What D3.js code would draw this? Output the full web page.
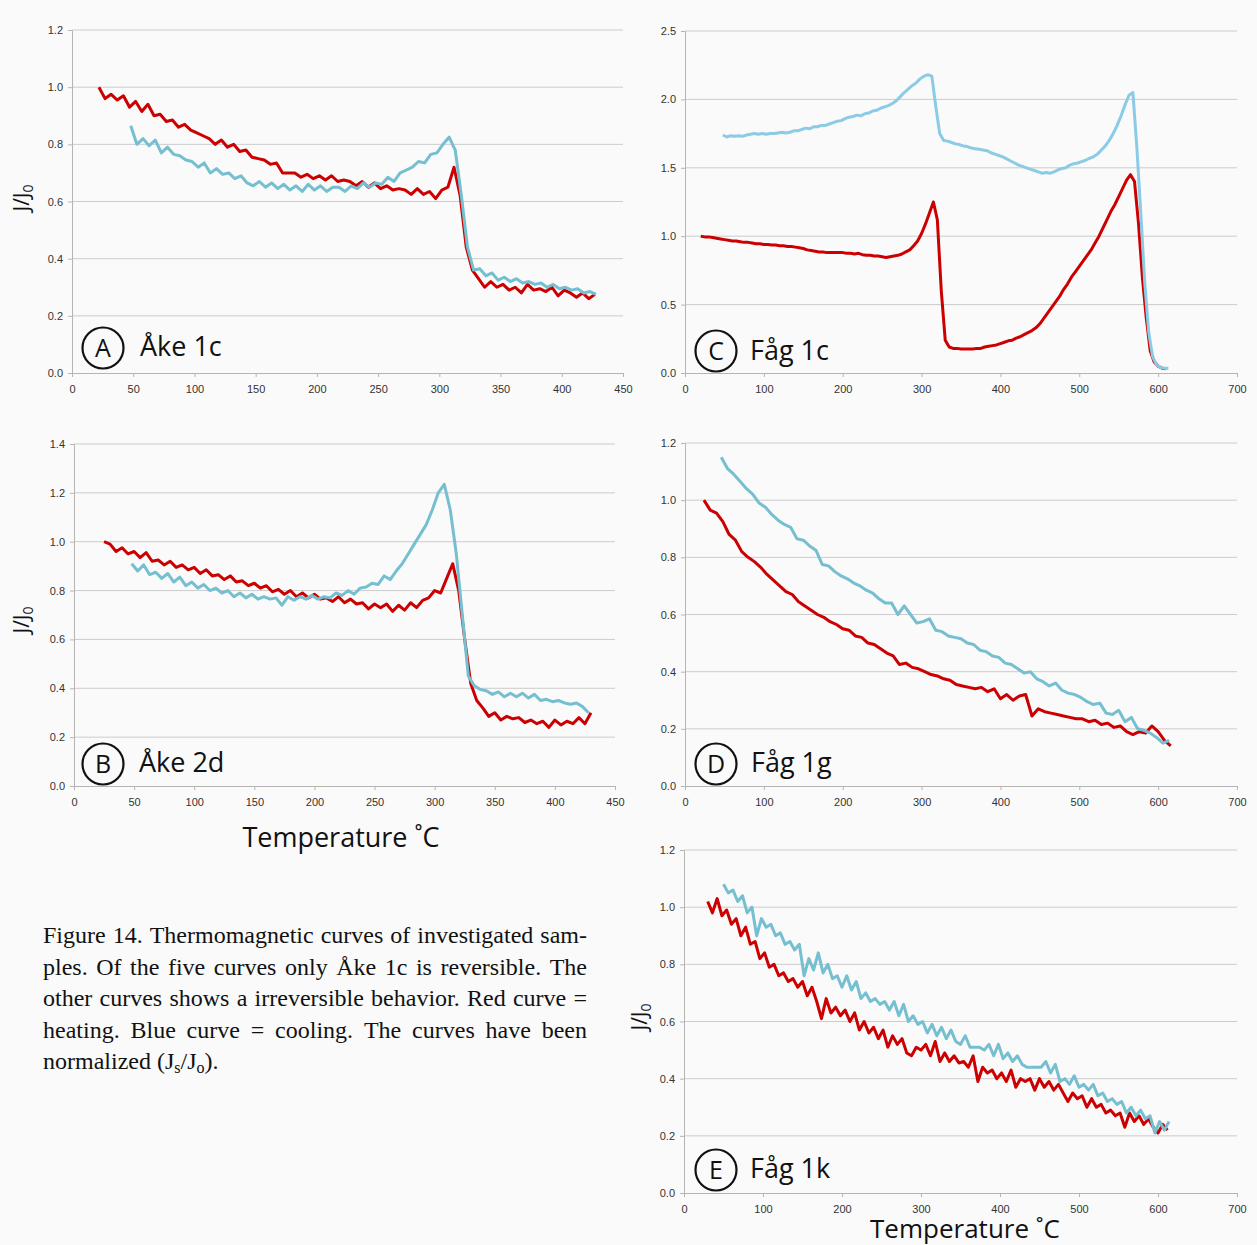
<!DOCTYPE html>
<html><head><meta charset="utf-8">
<script src="https://cdn.jsdelivr.net/npm/d3@7"></script>
<style>body{margin:0;background:#fafafa}</style>
</head><body><svg id="c" width="1257" height="1245"></svg>
<script>
// ---------------- DATA ----------------
// Temperatures: series start (°C) and sampling step (°C); values are J/J0
const aHeatStart = 22, aHeatStep = 5;
const aHeat = [1.00,0.96,0.975,0.955,0.97,0.93,0.95,0.915,0.94,0.90,
0.905,0.88,0.885,0.86,0.87,0.85,0.84,0.83,0.82,0.80,
0.815,0.79,0.80,0.775,0.78,0.755,0.75,0.745,0.73,0.735,
0.70,0.70,0.70,0.685,0.695,0.68,0.69,0.675,0.69,0.67,
0.675,0.67,0.655,0.67,0.65,0.665,0.645,0.655,0.64,0.645,
0.64,0.625,0.645,0.625,0.635,0.61,0.64,0.65,0.72,0.62,
0.44,0.36,0.33,0.30,0.32,0.30,0.31,0.29,0.30,0.28,
0.31,0.29,0.295,0.285,0.30,0.27,0.29,0.28,0.265,0.28,0.26,0.275];
const aCoolStart = 48, aCoolStep = 5;
const aCool = [0.865,0.80,0.82,0.795,0.815,0.77,0.79,0.765,0.76,0.745,
0.74,0.72,0.735,0.70,0.715,0.695,0.70,0.68,0.69,0.665,
0.655,0.67,0.65,0.665,0.645,0.66,0.64,0.655,0.635,0.66,
0.64,0.655,0.635,0.65,0.65,0.635,0.655,0.645,0.665,0.65,
0.665,0.66,0.685,0.67,0.70,0.71,0.72,0.74,0.735,0.765,
0.77,0.80,0.825,0.78,0.62,0.44,0.36,0.365,0.34,0.35,
0.325,0.335,0.32,0.33,0.315,0.32,0.31,0.315,0.30,0.31,0.295,0.30,0.29,0.295,0.28,0.285,0.275];

const bHeatStart = 25, bHeatStep = 5;
const bHeat = [1.00,0.99,0.96,0.975,0.95,0.96,0.935,0.955,0.92,0.925,
0.905,0.92,0.895,0.905,0.885,0.895,0.87,0.885,0.86,0.865,
0.845,0.86,0.835,0.84,0.82,0.83,0.81,0.82,0.795,0.805,
0.785,0.80,0.775,0.79,0.77,0.785,0.765,0.77,0.755,0.775,
0.75,0.765,0.745,0.75,0.725,0.745,0.73,0.745,0.715,0.74,
0.72,0.75,0.73,0.76,0.77,0.80,0.79,0.85,0.91,0.80,
0.60,0.42,0.35,0.32,0.285,0.30,0.27,0.285,0.275,0.28,0.26,0.27,0.255,0.265,0.24,0.27,0.25,0.265,0.255,0.28,0.255,0.30];
const bCoolStart = 48, bCoolStep = 5;
const bCool = [0.91,0.88,0.905,0.865,0.875,0.85,0.87,0.835,0.855,0.82,
0.835,0.81,0.825,0.80,0.81,0.79,0.80,0.775,0.79,0.77,
0.785,0.765,0.775,0.765,0.77,0.74,0.775,0.76,0.775,0.765,
0.78,0.765,0.775,0.77,0.79,0.78,0.80,0.785,0.81,0.815,
0.83,0.825,0.86,0.845,0.88,0.91,0.95,0.99,1.03,1.07,
1.13,1.20,1.235,1.13,0.95,0.70,0.45,0.41,0.395,0.39,
0.375,0.385,0.365,0.38,0.365,0.38,0.36,0.375,0.35,0.355,0.345,0.35,0.34,0.335,0.34,0.325,0.30];

const cHeatStart = 20, cHeatStep = 5;
const cHeat = [1.00,0.995,0.995,0.99,0.985,0.98,0.975,0.97,0.965,0.965,
0.96,0.955,0.955,0.95,0.945,0.945,0.94,0.94,0.935,0.935,
0.93,0.93,0.925,0.925,0.92,0.915,0.91,0.90,0.895,0.89,
0.885,0.885,0.88,0.88,0.88,0.88,0.88,0.875,0.875,0.87,
0.875,0.865,0.86,0.86,0.855,0.855,0.85,0.845,0.85,0.855,
0.86,0.87,0.885,0.90,0.93,0.965,1.02,1.09,1.17,1.25,
1.12,0.60,0.24,0.19,0.18,0.18,0.175,0.175,0.175,0.175,
0.18,0.18,0.19,0.195,0.20,0.205,0.215,0.225,0.235,0.24,
0.255,0.265,0.28,0.295,0.31,0.33,0.36,0.40,0.44,0.48,
0.52,0.56,0.61,0.65,0.70,0.74,0.78,0.82,0.86,0.90,
0.95,1.00,1.06,1.12,1.18,1.23,1.29,1.35,1.41,1.45,
1.40,1.10,0.70,0.40,0.16,0.08,0.05,0.035,0.03];
const cCoolStart = 48, cCoolStep = 5;
const cCool = [1.74,1.725,1.735,1.73,1.735,1.73,1.74,1.745,1.75,1.745,
1.75,1.745,1.75,1.75,1.755,1.76,1.755,1.76,1.77,1.77,
1.78,1.79,1.785,1.80,1.80,1.81,1.81,1.82,1.83,1.84,
1.845,1.86,1.87,1.875,1.885,1.88,1.895,1.90,1.915,1.92,
1.935,1.945,1.955,1.97,1.99,2.02,2.05,2.075,2.10,2.12,
2.15,2.17,2.18,2.17,1.95,1.75,1.70,1.695,1.685,1.675,
1.67,1.66,1.655,1.645,1.64,1.635,1.63,1.625,1.61,1.60,
1.59,1.58,1.565,1.55,1.535,1.52,1.51,1.50,1.49,1.48,
1.47,1.46,1.465,1.46,1.47,1.485,1.495,1.50,1.52,1.53,
1.535,1.545,1.555,1.57,1.58,1.60,1.63,1.66,1.70,1.75,
1.81,1.88,1.96,2.03,2.05,1.65,1.17,0.66,0.30,0.12,
0.06,0.04,0.035,0.035];

const dHeatStart = 24, dHeatStep = 8;
const dHeat = [1.00,0.965,0.955,0.925,0.88,0.86,0.82,0.80,0.785,0.765,
0.74,0.72,0.70,0.68,0.67,0.645,0.63,0.615,0.60,0.59,
0.575,0.565,0.55,0.545,0.525,0.52,0.50,0.495,0.48,0.465,
0.455,0.425,0.43,0.415,0.41,0.40,0.39,0.385,0.375,0.37,
0.355,0.35,0.345,0.34,0.345,0.33,0.34,0.305,0.32,0.30,
0.315,0.32,0.245,0.27,0.26,0.255,0.25,0.245,0.24,0.235,
0.235,0.225,0.23,0.215,0.22,0.205,0.21,0.19,0.18,0.19,
0.185,0.21,0.19,0.16,0.14];
const dCoolStart = 46, dCoolStep = 8;
const dCool = [1.15,1.11,1.09,1.065,1.04,1.02,0.99,0.975,0.95,0.93,
0.915,0.905,0.865,0.86,0.84,0.825,0.775,0.77,0.75,0.735,
0.725,0.71,0.70,0.685,0.675,0.655,0.64,0.64,0.60,0.63,
0.60,0.57,0.575,0.585,0.545,0.54,0.525,0.52,0.515,0.50,
0.495,0.475,0.47,0.455,0.45,0.43,0.425,0.41,0.395,0.40,
0.375,0.365,0.35,0.36,0.335,0.325,0.32,0.31,0.295,0.285,
0.29,0.255,0.25,0.265,0.225,0.24,0.20,0.195,0.185,0.17,
0.15,0.16];

const eHeatStart = 30, eHeatStep = 6;
const eHeat = [1.02,0.98,1.03,0.97,0.99,0.94,0.96,0.90,0.93,0.87,
0.88,0.82,0.84,0.79,0.80,0.76,0.77,0.74,0.75,0.72,
0.74,0.69,0.72,0.67,0.61,0.68,0.63,0.65,0.62,0.64,
0.60,0.63,0.57,0.60,0.56,0.58,0.54,0.57,0.51,0.55,
0.52,0.54,0.49,0.48,0.51,0.50,0.52,0.48,0.53,0.46,
0.49,0.46,0.48,0.455,0.46,0.44,0.48,0.39,0.44,0.42,
0.43,0.40,0.42,0.39,0.43,0.37,0.40,0.39,0.40,0.36,
0.40,0.37,0.39,0.36,0.38,0.35,0.32,0.35,0.33,0.34,
0.30,0.33,0.30,0.31,0.28,0.29,0.27,0.28,0.23,0.28,
0.25,0.27,0.24,0.26,0.23,0.21,0.24,0.22];
const eCoolStart = 50, eCoolStep = 6;
const eCool = [1.08,1.05,1.06,1.02,1.04,0.98,1.00,0.90,0.96,0.93,
0.94,0.90,0.91,0.87,0.88,0.85,0.87,0.76,0.82,0.78,
0.84,0.77,0.80,0.75,0.76,0.72,0.76,0.71,0.74,0.68,
0.70,0.67,0.68,0.66,0.67,0.64,0.67,0.62,0.66,0.60,
0.62,0.59,0.60,0.56,0.59,0.55,0.58,0.54,0.57,0.53,
0.52,0.55,0.51,0.51,0.51,0.50,0.52,0.48,0.52,0.47,
0.49,0.46,0.48,0.45,0.44,0.44,0.44,0.44,0.46,0.42,
0.45,0.39,0.40,0.38,0.41,0.37,0.38,0.36,0.38,0.34,
0.35,0.32,0.33,0.31,0.32,0.28,0.30,0.27,0.29,0.26,
0.27,0.21,0.25,0.22,0.25];

const xTicksShort = [0,50,100,150,200,250,300,350,400,450];
const xTicksLong = [0,100,200,300,400,500,600,700];
const yTicks12 = [0,0.2,0.4,0.6,0.8,1.0,1.2];
const yTicks14 = [0,0.2,0.4,0.6,0.8,1.0,1.2,1.4];
const yTicks25 = [0,0.5,1.0,1.5,2.0,2.5];
const panelLetters = ["A","B","C","D","E"];
const panelNames = ["Åke 1c","Åke 2d","Fåg 1c","Fåg 1g","Fåg 1k"];
const yTitle = "J/J";
const yTitleSub = "0";
const xTitle = "Temperature ˚C";
const captionLines = [
 "Figure 14. Thermomagnetic curves of investigated sam-",
 "ples. Of the five curves only Åke 1c is reversible.  The",
 "other curves shows a irreversible behavior. Red curve =",
 "heating. Blue curve = cooling. The curves have been"
];

// ---------------- DRAW ----------------
const RED = "#cc0000", BLUE = "#75bfd0", BLUE_C = "#8ccbe5";
const svg = d3.select("#c");
svg.append("rect").attr("width",1257).attr("height",1245).attr("fill","#fafafa");
const SANS = "'Liberation Sans', Arial, sans-serif";
const LBL = "'Open Sans', 'Noto Sans', sans-serif";

function series(start, step, vals){ return vals.map((v,i)=>({t:start+i*step, v})); }

const panels = [
 {L:72,R:623,T:30,B:373,xMax:450,xt:xTicksShort,yMax:1.2,yt:yTicks12,
  heat:series(aHeatStart,aHeatStep,aHeat), cool:series(aCoolStart,aCoolStep,aCool), blue:BLUE,
  circ:[103,348], name:[140,356], yTitle:[22,198]},
 {L:74,R:615,T:444,B:786,xMax:450,xt:xTicksShort,yMax:1.4,yt:yTicks14,
  heat:series(bHeatStart,bHeatStep,bHeat), cool:series(bCoolStart,bCoolStep,bCool), blue:BLUE,
  circ:[103,764], name:[139,772], yTitle:[22,620], xTitle:[341,847]},
 {L:685,R:1237,T:31,B:373,xMax:700,xt:xTicksLong,yMax:2.5,yt:yTicks25,
  heat:series(cHeatStart,cHeatStep,cHeat), cool:series(cCoolStart,cCoolStep,cCool), blue:BLUE_C,
  circ:[716,351], name:[750,360]},
 {L:685,R:1237,T:443,B:786,xMax:700,xt:xTicksLong,yMax:1.2,yt:yTicks12,
  heat:series(dHeatStart,dHeatStep,dHeat), cool:series(dCoolStart,dCoolStep,dCool), blue:BLUE,
  circ:[716,764], name:[751,772]},
 {L:684,R:1237,T:850,B:1193,xMax:700,xt:xTicksLong,yMax:1.2,yt:yTicks12,
  heat:series(eHeatStart,eHeatStep,eHeat), cool:series(eCoolStart,eCoolStep,eCool), blue:BLUE,
  circ:[716,1170], name:[750,1178], yTitle:[640,1017], xTitle:[965,1238], xTitleFS:26}
];

panels.forEach((p,i)=>{
  const x = d3.scaleLinear().domain([0,p.xMax]).range([p.L,p.R]);
  const y = d3.scaleLinear().domain([0,p.yMax]).range([p.B,p.T]);
  const g = svg.append("g");
  g.append("g").selectAll("line").data(p.yt.filter(d=>d>0)).join("line")
    .attr("x1",p.L).attr("x2",p.R).attr("y1",d=>y(d)).attr("y2",d=>y(d))
    .attr("stroke","#cccccc").attr("stroke-width",1);
  const ya = g.append("g").attr("transform",`translate(${p.L},0)`)
    .call(d3.axisLeft(y).tickValues(p.yt).tickFormat(d3.format(".1f")).tickSize(4).tickPadding(5));
  const xa = g.append("g").attr("transform",`translate(0,${p.B})`)
    .call(d3.axisBottom(x).tickValues(p.xt).tickFormat(d3.format("d")).tickSize(4).tickPadding(8));
  [ya,xa].forEach(a=>{
    a.select(".domain").attr("stroke","#b5b5b5");
    a.selectAll(".tick line").attr("stroke","#b5b5b5");
    a.selectAll("text").attr("font-family",SANS).attr("font-size",11).attr("fill","#333");
  });
  const line = d3.line().x(d=>x(d.t)).y(d=>y(d.v));
  g.append("path").datum(p.heat).attr("d",line).attr("fill","none")
    .attr("stroke",RED).attr("stroke-width",3).attr("stroke-linejoin","round");
  g.append("path").datum(p.cool).attr("d",line).attr("fill","none")
    .attr("stroke",p.blue).attr("stroke-width",3).attr("stroke-linejoin","round");
  g.append("circle").attr("cx",p.circ[0]).attr("cy",p.circ[1]).attr("r",20.5)
    .attr("fill","none").attr("stroke","#111").attr("stroke-width",2.2);
  g.append("text").attr("x",p.circ[0]).attr("y",p.circ[1]+9).attr("text-anchor","middle")
    .attr("font-family",LBL).attr("font-size",25).attr("fill","#111").text(panelLetters[i]);
  g.append("text").attr("x",p.name[0]).attr("y",p.name[1])
    .attr("font-family",LBL).attr("font-size",27).attr("fill","#111").text(panelNames[i]);
  if(p.yTitle){
    const t = g.append("text").attr("transform",`translate(${p.yTitle[0]+7},${p.yTitle[1]}) rotate(-90)`)
      .attr("text-anchor","middle").attr("font-family",LBL).attr("font-size",21).attr("fill","#111");
    t.append("tspan").text(yTitle);
    t.append("tspan").attr("font-size",14).attr("dy",4).text(yTitleSub);
  }
  if(p.xTitle){
    g.append("text").attr("x",p.xTitle[0]).attr("y",p.xTitle[1]).attr("text-anchor","middle")
      .attr("font-family",LBL).attr("font-size",p.xTitleFS||27).attr("fill","#111").text(xTitle);
  }
});

// caption (justified)
const SERIF = "'Liberation Serif', 'Times New Roman', serif";
const capFS = 24, capX = 43, capW = 544, capY0 = 943, capLH = 31.5;
const cap = svg.append("g").attr("font-family",SERIF).attr("font-size",capFS).attr("fill","#111");
const meas = cap.append("text");
captionLines.forEach((ln,k)=>{
  const words = ln.split(/\s+/);
  const ws = words.map(w=>{ meas.text(w); return meas.node().getComputedTextLength(); });
  const gap = (capW - d3.sum(ws))/(words.length-1);
  let cx = capX;
  words.forEach((w,j)=>{
    cap.append("text").attr("x",cx).attr("y",capY0+k*capLH).text(w);
    cx += ws[j]+gap;
  });
});
meas.remove();
const last = cap.append("text").attr("x",capX).attr("y",capY0+4*capLH);
last.append("tspan").text("normalized (J");
last.append("tspan").attr("font-size",16).attr("dy",4).text("s");
last.append("tspan").attr("dy",-4).text("/J");
last.append("tspan").attr("font-size",16).attr("dy",4).text("o");
last.append("tspan").attr("dy",-4).text(").");
</script>
</body></html>
